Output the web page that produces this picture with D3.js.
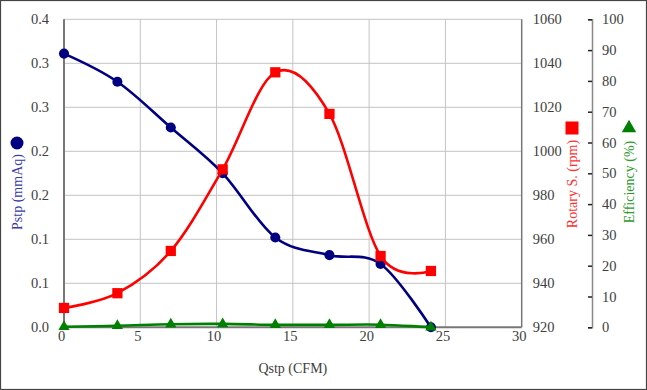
<!DOCTYPE html>
<html>
<head>
<meta charset="utf-8">
<script src="https://cdn.jsdelivr.net/npm/d3@7"></script>
<style>
  body { margin: 0; background: #fff; }
  text { font-family: "Liberation Serif", "DejaVu Serif", serif; }
</style>
</head>
<body>
<svg id="graph" width="647" height="390"></svg>
<script>
// flow rate (CFM) for each measuring point
let qstp = [0, 3.5, 7.0, 10.4, 13.85, 17.4, 20.75, 24.05]
// static pressure (mmAq)
let pstp = [0.311, 0.279, 0.227, 0.175, 0.102, 0.082, 0.072, 0.0]
// rotary speed (rpm)
let rpm = [928.8, 935.5, 954.7, 991.8, 1035.9, 1017.0, 952.4, 945.6]
// efficiency (%)
let eff = [0.2, 0.5, 1.0, 1.1, 0.8, 0.8, 0.85, 0.0]

let xTicks = [0, 5, 10, 15, 20, 25, 30]
let pTicks = [0, 0.05, 0.10, 0.15, 0.20, 0.25, 0.30, 0.35]
let pTickLabels = ["0.0", "0.1", "0.1", "0.2", "0.2", "0.3", "0.3", "0.4"]
let rpmTicks = [920, 940, 960, 980, 1000, 1020, 1040, 1060]
let effTicks = [0, 10, 20, 30, 40, 50, 60, 70, 80, 90, 100]

//========================= SET UP SVG =========================
let svg = d3.select("#graph"),
    plotL = 64, plotR = 521.7, plotT = 19.3, plotB = 327.3,
    navy = "#000080", red = "#ff0000", green = "#008000",
    labelColor = "#404040", axisColor = "#777",
    serif = '"Liberation Serif", "DejaVu Serif", serif'

svg.append("rect")
  .attr("x", 0.5).attr("y", 0.5)
  .attr("width", 646).attr("height", 389)
  .attr("fill", "#fff").attr("stroke", "#444").attr("stroke-width", 1.2)

let x = d3.scaleLinear().domain([0, 30]).range([plotL, plotR]),
    yP = d3.scaleLinear().domain([0, 0.35]).range([plotB, plotT]),
    yR = d3.scaleLinear().domain([920, 1060]).range([plotB, plotT]),
    yE = d3.scaleLinear().domain([0, 100]).range([plotB, plotT])

//========================= GRID =========================
svg.append("g").selectAll("line")
  .data(xTicks.slice(1, -1))
  .enter().append("line")
    .attr("x1", d => x(d)).attr("x2", d => x(d))
    .attr("y1", plotT).attr("y2", plotB)
    .attr("stroke", "#c4c4c4").attr("stroke-width", 1)

svg.append("g").selectAll("line")
  .data(pTicks.slice(1))
  .enter().append("line")
    .attr("x1", plotL).attr("x2", plotR)
    .attr("y1", d => yP(d)).attr("y2", d => yP(d))
    .attr("stroke", "#c4c4c4").attr("stroke-width", 1)

// frame lines: left, bottom, right
svg.append("line").attr("x1", plotL).attr("x2", plotL).attr("y1", plotT).attr("y2", plotB)
  .attr("stroke", axisColor).attr("stroke-width", 2)
svg.append("line").attr("x1", plotL).attr("x2", plotR).attr("y1", plotB).attr("y2", plotB)
  .attr("stroke", axisColor).attr("stroke-width", 2)
svg.append("line").attr("x1", plotR).attr("x2", plotR).attr("y1", plotT).attr("y2", plotB)
  .attr("stroke", axisColor).attr("stroke-width", 1.5)

//========================= AXES =========================
function styleAxis(g) {
  g.attr("font-family", serif).attr("font-size", 14.5)
  g.selectAll("text").attr("fill", labelColor)
}

svg.append("g")
  .attr("transform", "translate(" + plotL + ",0)")
  .call(d3.axisLeft(yP).tickValues(pTicks).tickSize(0).tickPadding(15)
    .tickFormat((d, i) => pTickLabels[i]))
  .call(g => g.select(".domain").remove())
  .call(styleAxis)

svg.append("g")
  .attr("transform", "translate(-3," + plotB + ")")
  .call(d3.axisBottom(x).tickValues(xTicks).tickSize(0).tickPadding(3))
  .call(g => g.select(".domain").remove())
  .call(styleAxis)

svg.append("g")
  .attr("transform", "translate(" + plotR + ",0)")
  .call(d3.axisRight(yR).tickValues(rpmTicks).tickSize(0).tickPadding(11).tickFormat(d3.format("d")))
  .call(g => g.select(".domain").remove())
  .call(styleAxis)

let effAxis = svg.append("g")
  .attr("transform", "translate(592,0)")
  .call(d3.axisRight(yE).tickValues(effTicks).tickSizeInner(-4).tickSizeOuter(-4).tickPadding(10))
  .call(styleAxis)
effAxis.select(".domain").attr("stroke", "#888").attr("stroke-width", 1.5)
effAxis.selectAll(".tick line").attr("stroke", "#222").attr("stroke-width", 1.5)

//========================= AXIS TITLES =========================
svg.append("text")
  .attr("x", x(15)).attr("y", 373)
  .attr("text-anchor", "middle").attr("fill", labelColor)
  .style("font-size", "14px").text("Qstp (CFM)")

svg.append("text")
  .attr("transform", "translate(22,192) rotate(-90)")
  .attr("text-anchor", "middle").attr("fill", "#3a3aa6")
  .style("font-size", "14px").text("Pstp (mmAq)")
svg.append("circle").attr("cx", 17).attr("cy", 143).attr("r", 6.5).attr("fill", navy)

svg.append("text")
  .attr("transform", "translate(577,184) rotate(-90)")
  .attr("text-anchor", "middle").attr("fill", "#ff3030")
  .style("font-size", "14px").text("Rotary S. (rpm)")
svg.append("rect").attr("x", 565.5).attr("y", 121.5).attr("width", 13).attr("height", 13).attr("fill", red)

svg.append("text")
  .attr("transform", "translate(634,182) rotate(-90)")
  .attr("text-anchor", "middle").attr("fill", "#2e9a2e")
  .style("font-size", "14px").text("Efficiency (%)")
svg.append("path")
  .attr("transform", "translate(629,128)")
  .attr("d", d3.symbol().type(d3.symbolTriangle).size(90)())
  .attr("fill", green)

//========================= SERIES =========================
let series = [
  {id: "pstp", values: pstp, y: yP, color: navy, shape: d3.symbolCircle, size: 80},
  {id: "rpm", values: rpm, y: yR, color: red, shape: d3.symbolSquare, size: 105},
  {id: "eff", values: eff, y: yE, color: green, shape: d3.symbolTriangle, size: 55}
]

series.forEach(function(s) {
  let pts = qstp.map((q, i) => [x(q), s.y(s.values[i])])
  let line = d3.line().curve(d3.curveCardinal.tension(0))
  let g = svg.append("g").attr("class", "series").attr("id", s.id)
  g.append("path")
    .attr("d", line(pts))
    .attr("fill", "none")
    .attr("stroke", s.color)
    .attr("stroke-width", 2.6)
  g.selectAll("path.mark")
    .data(pts)
    .enter().append("path")
      .attr("class", "mark")
      .attr("transform", d => "translate(" + d[0] + "," + d[1] + ")")
      .attr("d", d3.symbol().type(s.shape).size(s.size)())
      .attr("fill", s.color)
})
</script>
</body>
</html>
